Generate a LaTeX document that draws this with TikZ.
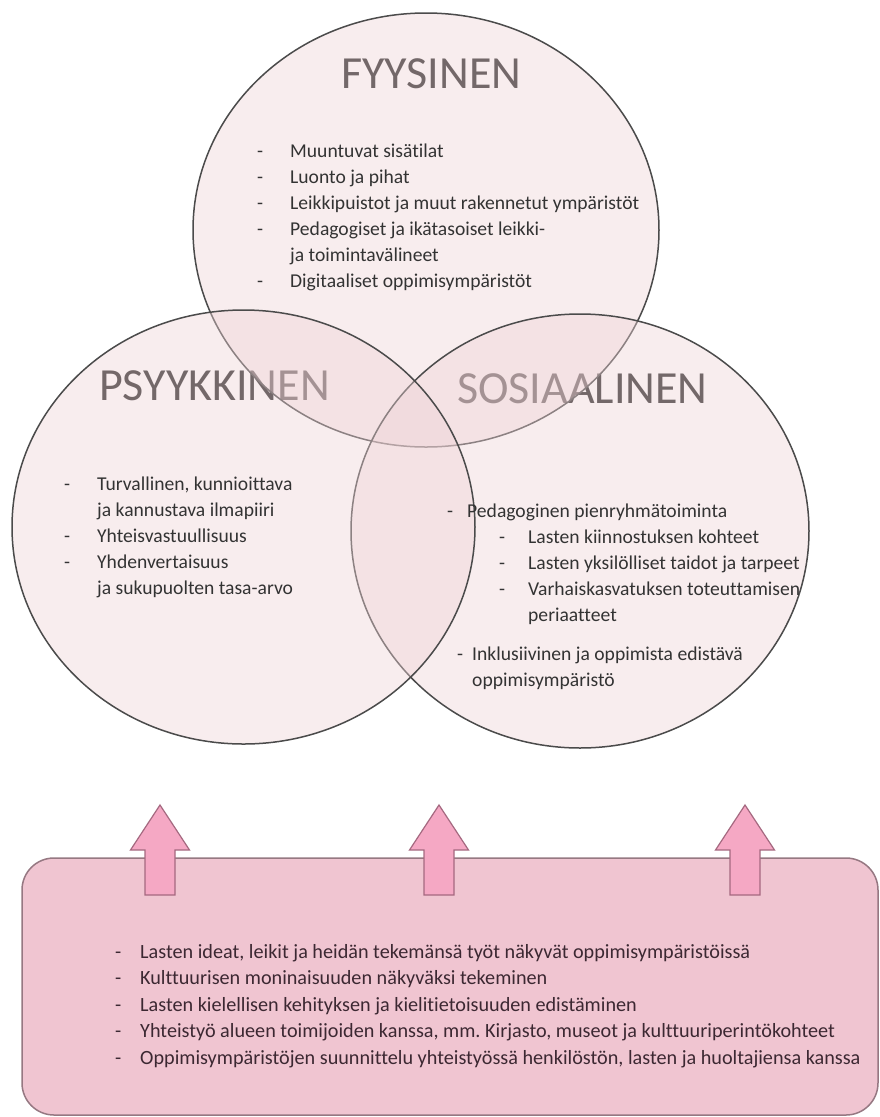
\documentclass[tikz,border=0pt]{standalone}
\usepackage{fontspec}
\setmainfont[Ligatures={NoCommon}]{Carlito}
\usepackage{array}
\frenchspacing
\definecolor{circfill}{RGB}{238,210,213}
\definecolor{circline}{RGB}{75,75,75}
\definecolor{titlecol}{RGB}{34,34,34}
\definecolor{bodycol}{RGB}{51,51,51}
\definecolor{boxfill}{RGB}{240,197,209}
\definecolor{boxline}{RGB}{150,120,130}
\definecolor{arrfill}{RGB}{245,168,196}
\definecolor{arrline}{RGB}{165,105,128}
\definecolor{boxtext}{RGB}{60,40,50}
\tikzset{
  circ/.style={draw=circline, line width=1.5pt, fill=circfill, fill opacity=0.4},
  titlelbl/.style={inner sep=0pt, text=titlecol, font=\fontsize{46}{50}\selectfont, anchor=base west},
  bodylbl/.style={inner sep=0pt, text=bodycol, font=\fontsize{19.6}{26}\selectfont, anchor=base west},
  boxlbl/.style={inner sep=0pt, text=boxtext, font=\fontsize{20.2}{26.5}\selectfont, anchor=base west},
  bigbox/.style={draw=boxline, line width=1.5pt, fill=boxfill, rounded corners=32pt},
  uparrow/.style={draw=arrline, line width=1.2pt, fill=arrfill, line join=miter}
}
\begin{document}
\begin{tikzpicture}[x=1pt,y=-1pt]
\useasboundingbox (0,0) rectangle (880,1117);
\fill[white] (0,0) rectangle (880,1117);
% titles (drawn below the circles)
\node[titlelbl] (tFyys) at (341,88) {FYYSINEN};
\node[titlelbl] (tPsyyk) at (99,400) {PSYYKKINEN};
\node[titlelbl] (tSos) at (457,403) {SOSIAALINEN};
% circles
\draw[circ] (426,230) ellipse [x radius=233pt, y radius=217pt];
\draw[circ] (580,531) ellipse [x radius=229pt, y radius=217pt];
\draw[circ] (243.5,527) ellipse [x radius=231.5pt, y radius=217pt];
% body texts
\node[bodylbl] (fyysList) at (257,157) {\begin{tabular}[t]{@{}p{33pt}@{}l@{}}
-& Muuntuvat sisätilat\\
-& Luonto ja pihat\\
-& Leikkipuistot ja muut rakennetut ympäristöt\\
-& Pedagogiset ja ikätasoiset leikki-\\
 & ja toimintavälineet\\
-& Digitaaliset oppimisympäristöt
\end{tabular}};
\node[bodylbl] (psyList) at (64,490) {\begin{tabular}[t]{@{}p{33pt}@{}l@{}}
-& Turvallinen, kunnioittava\\
 & ja kannustava ilmapiiri\\
-& Yhteisvastuullisuus\\
-& Yhdenvertaisuus\\
 & ja sukupuolten tasa-arvo
\end{tabular}};
\node[bodylbl] (sosHead) at (447,517) {\begin{tabular}[t]{@{}p{20pt}@{}l@{}}
-& Pedagoginen pienryhmätoiminta
\end{tabular}};
\node[bodylbl] (sosSub) at (499,543) {\begin{tabular}[t]{@{}p{29pt}@{}l@{}}
-& Lasten kiinnostuksen kohteet\\
-& Lasten yksilölliset taidot ja tarpeet\\
-& Varhaiskasvatuksen toteuttamisen\\
 & periaatteet
\end{tabular}};
\node[bodylbl] (sosIncl) at (457,660) {\begin{tabular}[t]{@{}p{15pt}@{}l@{}}
-& Inklusiivinen ja oppimista edistävä\\
 & oppimisympäristö
\end{tabular}};
% bottom box
\draw[bigbox] (22,858) rectangle (878,1115);
\foreach \ax/\an in {160/arrL,439/arrM,745/arrR}{
  \draw[uparrow] ({\ax-15},895) -- ({\ax-15},850) -- ({\ax-29.5},850) -- (\ax,805)
     -- ({\ax+29.5},850) -- ({\ax+15},850) -- ({\ax+15},895) -- cycle;
  \coordinate (\an) at (\ax,805);
}
\node[boxlbl] (boxList) at (115,958) {\begin{tabular}[t]{@{}p{25pt}@{}l@{}}
-& Lasten ideat, leikit ja heidän tekemänsä työt näkyvät oppimisympäristöissä\\
-& Kulttuurisen moninaisuuden näkyväksi tekeminen\\
-& Lasten kielellisen kehityksen ja kielitietoisuuden edistäminen\\
-& Yhteistyö alueen toimijoiden kanssa, mm. Kirjasto, museot ja kulttuuriperintökohteet\\
-& Oppimisympäristöjen suunnittelu yhteistyössä henkilöstön, lasten ja huoltajiensa kanssa
\end{tabular}};
\end{tikzpicture}
\end{document}
